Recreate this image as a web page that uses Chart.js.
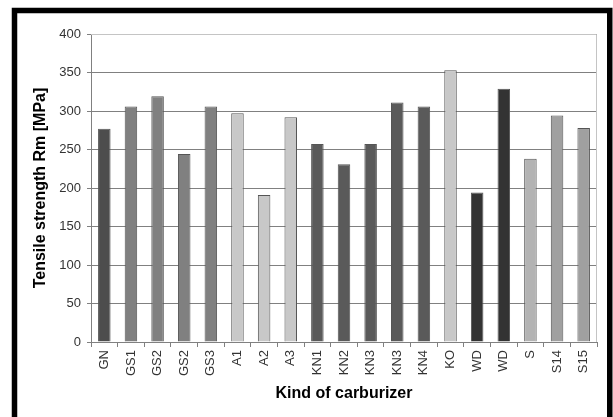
<!DOCTYPE html>
<html>
<head>
<meta charset="utf-8">
<script src="https://cdn.jsdelivr.net/npm/chart.js@4/dist/chart.umd.min.js"></script>
<style>
  html, body { margin: 0; padding: 0; background: #fff; }
  #wrap { width: 613px; height: 417px; position: relative; }
</style>
</head>
<body>
<div id="wrap"><canvas id="myChart" width="613" height="417"></canvas></div>
<script>
const carburizers = ['GN', 'GS1', 'GS2', 'GS2', 'GS3', 'A1', 'A2', 'A3', 'KN1', 'KN2', 'KN3', 'KN3', 'KN4', 'KO', 'WD', 'WD', 'S', 'S14', 'S15'];
const tensileStrength = [277, 306, 319, 244, 306, 297, 191, 292, 257, 231, 257, 311, 306, 353, 194, 329, 238, 294, 278];
const barColors = ['#4d4d4d', '#808080', '#808080', '#808080', '#808080', '#c8c8c8', '#c8c8c8', '#c8c8c8',
  '#5a5a5a', '#5a5a5a', '#5a5a5a', '#5a5a5a', '#5a5a5a', '#c8c8c8', '#333333', '#333333', '#b3b3b3', '#a0a0a0', '#a0a0a0'];
const yTicks = [0, 50, 100, 150, 200, 250, 300, 350, 400];

// black frame around the picture and light frame round the plot
const framePlugin = {
  id: 'frame',
  beforeDraw(chart) {
    let ctx = chart.ctx;
    ctx.save();
    ctx.fillStyle = '#fff';
    ctx.fillRect(0, 0, chart.width, chart.height);
    ctx.strokeStyle = '#000';
    ctx.lineWidth = 5.5;
    ctx.beginPath();
    ctx.moveTo(14.5, chart.height + 5);
    ctx.lineTo(14.5, 10.5);
    ctx.lineTo(609.75, 10.5);
    ctx.lineTo(609.75, chart.height + 5);
    ctx.stroke();
    ctx.restore();
  },
  afterDatasetsDraw(chart) {
    let a = chart.chartArea;
    let ctx = chart.ctx;
    ctx.save();
    ctx.strokeStyle = '#c4c4c4';
    ctx.lineWidth = 1;
    ctx.beginPath();
    ctx.moveTo(a.left, a.top + 0.5);
    ctx.lineTo(a.right - 0.5, a.top + 0.5);
    ctx.lineTo(a.right - 0.5, a.bottom);
    ctx.stroke();
    ctx.restore();
  }
};

Chart.defaults.font.family = '"Liberation Sans", Arial, sans-serif';
Chart.defaults.color = '#333';

new Chart(document.getElementById('myChart'), {
  type: 'bar',
  data: {
    labels: carburizers,
    datasets: [{
      data: tensileStrength,
      backgroundColor: barColors,
      borderColor: '#555',
      borderWidth: 1,
      barPercentage: 0.47,
      categoryPercentage: 1
    }]
  },
  options: {
    responsive: false,
    animation: false,
    layout: { padding: { left: 0, top: 34, right: 16, bottom: 0 } },
    plugins: { legend: { display: false }, tooltip: { enabled: false } },
    scales: {
      x: {
        offset: true,
        grid: { offset: true, drawOnChartArea: false, color: '#808080', tickLength: 5 },
        border: { color: '#808080' },
        ticks: { minRotation: 90, maxRotation: 90, padding: 3, font: { size: 13 }, color: '#333' },
        title: { display: true, text: 'Kind of carburizer', color: '#000', font: { size: 16, weight: 'bold' }, padding: 14 },
        afterFit(scale) { scale.height = 75; }
      },
      y: {
        min: 0,
        max: 400,
        afterBuildTicks(scale) { scale.ticks = yTicks.map(v => ({ value: v })); },
        grid: { color: '#808080', tickLength: 4 },
        border: { color: '#808080' },
        ticks: { padding: 6, font: { size: 13 }, color: '#333' },
        title: { display: true, text: 'Tensile strength Rm [MPa]', color: '#000', font: { size: 16, weight: 'bold' }, padding: 31 },
        afterFit(scale) { scale.width = 91; }
      }
    }
  },
  plugins: [framePlugin]
});
</script>
</body>
</html>
